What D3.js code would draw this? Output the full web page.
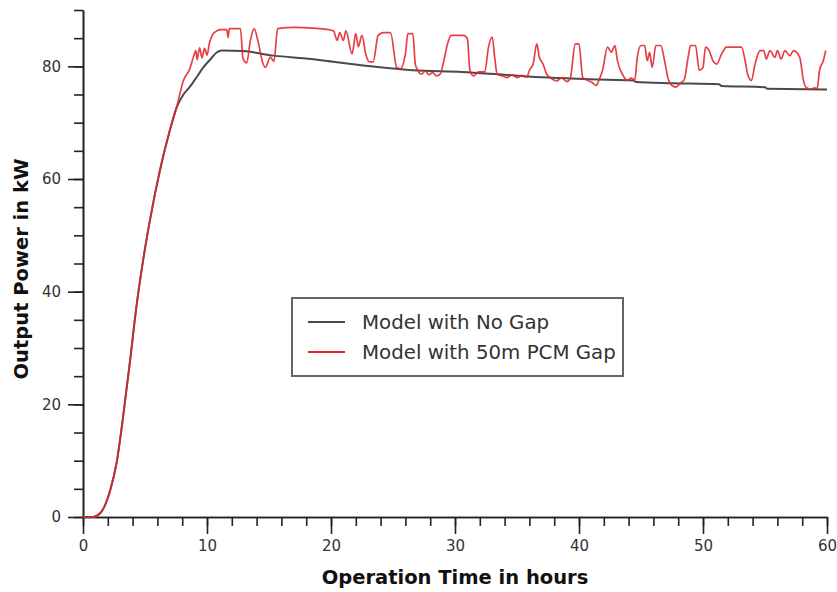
<!DOCTYPE html>
<html>
<head>
<meta charset="utf-8">
<script src="https://cdn.jsdelivr.net/npm/d3@7"></script>
<style>
  body { margin: 0; background: #fff; }
  .axis text { font-family: "DejaVu Sans", sans-serif; font-size: 15px; fill: #333; }
  .axis path, .axis line { stroke: #222; stroke-width: 1.6; }
  .axis-title { font-family: "DejaVu Sans", sans-serif; font-weight: bold; font-size: 19.5px; fill: #111; }
  .legend text { font-family: "DejaVu Sans", sans-serif; font-size: 19.8px; fill: #333; }
</style>
</head>
<body>
<div id="chart"></div>
<script>
// Model with No Gap
const noGapTime = [0, 0.8, 1.4, 2.2, 2.7, 3.2, 3.8, 4.3, 4.85, 5.4, 6.2, 7.0, 7.55, 8.1, 8.6, 9.2, 9.7, 10.3, 10.8, 11.2,
  12.9, 15.4, 18.4, 20.2, 22.8, 26.6, 30.6, 34, 37.5, 40.9, 44.4, 44.6, 47.6, 51.3, 51.5, 55.0, 55.2, 60];
const noGapPower = [0, 0, 0.7, 4.8, 9.5, 17.2, 27.8, 37.2, 45.6, 52.7, 61.5, 68.6, 72.7, 75.0, 76.3, 78.2, 79.8, 81.3, 82.5, 82.8,
  82.7, 81.9, 81.3, 80.8, 80.1, 79.3, 79.0, 78.5, 78.0, 77.7, 77.5, 77.2, 77.0, 76.8, 76.5, 76.3, 76.0, 75.9];

// Model with 50m PCM Gap
const gapTime = [0, 0.8, 1.4, 2.2, 2.7, 3.2, 3.8, 4.3, 4.85, 5.4, 6.2, 7.0, 7.55, 8.1, 8.6, 8.9, 9.1, 9.2, 9.4, 9.6, 9.8, 10.0,
  10.2, 10.5, 10.8, 11.1, 11.6, 11.7, 11.8, 12.7, 12.9, 13.2, 13.5, 13.8, 14.1, 14.5, 14.7, 15.1, 15.4, 15.7, 17, 18.5, 19.5,
  20.2, 20.5, 20.7, 21.0, 21.2, 21.7, 22.0, 22.2, 22.5, 22.8, 23.1, 23.4, 23.8, 24.2, 24.8, 25.3, 25.6, 26.0, 26.2, 26.6, 26.8,
  27.0, 27.3, 27.6, 27.9, 28.2, 28.5, 28.8, 29.1, 29.4, 29.7, 30.7, 31.0, 31.2, 31.5, 31.9, 32.4, 32.7, 33.0, 33.2, 33.4, 33.8,
  34.2, 34.6, 35.0, 35.4, 35.8, 36.0, 36.3, 36.6, 36.8, 37.1, 37.4, 37.8, 38.2, 38.6, 39.0, 39.3, 39.4, 39.7, 40.0, 40.3, 40.6,
  41.0, 41.4, 41.6, 41.9, 42.3, 42.6, 42.9, 43.1, 43.5, 43.9, 44.2, 44.5, 44.7, 45.0, 45.3, 45.5, 45.7, 45.9, 46.2, 46.6, 46.9,
  47.2, 47.5, 47.8, 48.1, 48.5, 48.8, 49.0, 49.4, 49.7, 50.0, 50.2, 50.5, 50.8, 51.1, 51.5, 51.9, 53.1, 53.4, 53.6, 53.9, 54.2,
  54.6, 54.9, 55.1, 55.4, 55.8, 56.0, 56.3, 56.6, 57.0, 57.3, 57.8, 58.1, 58.3, 58.7, 59.0, 59.2, 59.4, 59.7, 59.9];
const gapPower = [0, 0, 0.7, 4.8, 9.5, 17.2, 27.8, 37.2, 45.6, 52.7, 61.5, 68.6, 72.7, 77.5, 79.5, 81.6, 82.8, 81.2, 83.3, 81.5, 83.2, 82.0,
  84.2, 85.8, 86.3, 86.5, 86.5, 85.1, 86.7, 86.7, 81.4, 80.6, 84.6, 86.7, 84.6, 80.6, 79.8, 81.6, 80.9, 86.7, 86.9, 86.8, 86.6,
  86.3, 84.6, 86.0, 84.6, 86.3, 82.2, 85.8, 83.5, 85.5, 82.2, 80.8, 80.8, 85.5, 86.0, 86.0, 79.8, 79.6, 82.2, 85.8, 85.8, 80.4,
  79.3, 78.6, 79.2, 78.5, 78.9, 78.3, 78.6, 81.0, 84.0, 85.5, 85.5, 84.9, 79.3, 78.3, 79.0, 79.0, 83.4, 85.2, 81.6, 78.6, 78.3,
  78.0, 78.5, 78.0, 78.4, 78.1, 79.3, 80.4, 84.0, 81.6, 80.4, 78.6, 77.8, 77.4, 78.0, 77.3, 77.8, 79.3, 84.0, 84.0, 78.0, 77.6,
  77.2, 76.6, 77.5, 79.3, 83.4, 82.5, 83.7, 81.0, 78.6, 77.5, 77.9, 77.6, 81.6, 83.7, 83.7, 81.0, 82.5, 79.8, 83.7, 83.7, 81.0,
  77.7, 76.6, 76.3, 76.9, 77.7, 81.6, 83.7, 83.7, 79.3, 79.8, 83.4, 82.8, 81.0, 80.4, 82.2, 83.4, 83.4, 81.0, 78.6, 77.5, 80.4,
  82.8, 82.8, 81.3, 82.8, 81.6, 82.8, 81.3, 82.8, 81.9, 82.8, 81.6, 77.5, 76.3, 75.9, 76.2, 76.0, 79.3, 81.0, 82.8];

const seriesNames = ["Model with No Gap", "Model with 50m PCM Gap"];
const seriesColors = ["#4a4a4a", "#e3262b"];
const xTickValues = [0, 10, 20, 30, 40, 50, 60];
const yTickValues = [0, 20, 40, 60, 80];
const xTitle = "Operation Time in hours";
const yTitle = "Output Power in kW";

class LineChart {
  constructor(_config, _series) {
    this.config = {
      parentElement: _config.parentElement,
      containerWidth: 837,
      containerHeight: 592,
      margin: { top: 10, right: 10, bottom: 75, left: 83 },
    };
    this.series = _series;
    this.initVis();
  }

  initVis() {
    let vis = this;
    vis.width = vis.config.containerWidth - vis.config.margin.left - vis.config.margin.right;
    vis.height = vis.config.containerHeight - vis.config.margin.top - vis.config.margin.bottom;

    vis.xScale = d3.scaleLinear().domain([0, 60]).range([0, vis.width]);
    vis.yScale = d3.scaleLinear().domain([0, 90]).range([vis.height, 0]);

    vis.svg = d3
      .select(vis.config.parentElement)
      .append("svg")
      .attr("width", vis.config.containerWidth)
      .attr("height", vis.config.containerHeight);

    vis.chart = vis.svg
      .append("g")
      .attr("transform", `translate(${vis.config.margin.left},${vis.config.margin.top})`);

    // minor ticks first, major axes on top
    vis.chart
      .append("g")
      .attr("class", "axis")
      .attr("transform", `translate(0,${vis.height})`)
      .call(d3.axisBottom(vis.xScale).tickValues(d3.range(0, 61, 2)).tickSize(9).tickSizeOuter(0).tickFormat(""));
    vis.chart
      .append("g")
      .attr("class", "axis")
      .call(d3.axisLeft(vis.yScale).tickValues(d3.range(0, 91, 5)).tickSize(9).tickSizeOuter(0).tickFormat(""));

    vis.chart
      .append("g")
      .attr("class", "axis")
      .attr("transform", `translate(0,${vis.height})`)
      .call(d3.axisBottom(vis.xScale).tickValues(xTickValues).tickSize(17).tickSizeOuter(0).tickPadding(6));
    vis.chart
      .append("g")
      .attr("class", "axis")
      .call(d3.axisLeft(vis.yScale).tickValues(yTickValues).tickSize(15).tickSizeOuter(0).tickPadding(7));

    vis.svg
      .append("text")
      .attr("class", "axis-title")
      .attr("x", 455)
      .attr("y", 584)
      .attr("text-anchor", "middle")
      .text(xTitle);

    vis.svg
      .append("text")
      .attr("class", "axis-title")
      .attr("transform", `translate(28,269) rotate(-90)`)
      .attr("text-anchor", "middle")
      .text(yTitle);

    vis.renderVis();
  }

  renderVis() {
    let vis = this;
    const line = d3
      .line()
      .curve(d3.curveMonotoneX)
      .x((d) => vis.xScale(d[0]))
      .y((d) => vis.yScale(d[1]));

    vis.chart
      .selectAll(".series")
      .data(vis.series)
      .join("path")
      .attr("class", "series")
      .attr("fill", "none")
      .attr("stroke", (d) => d.color)
      .attr("stroke-width", (d, i) => (i === 0 ? 2 : 1.7))
      .attr("stroke-opacity", (d, i) => (i === 0 ? 1 : 0.88))
      .attr("stroke-linejoin", "round")
      .attr("d", (d) => line(d.values));

    // legend
    const legend = vis.svg.append("g").attr("class", "legend");
    legend
      .append("rect")
      .attr("x", 292)
      .attr("y", 298)
      .attr("width", 331)
      .attr("height", 78)
      .attr("fill", "#fff")
      .attr("stroke", "#666")
      .attr("stroke-width", 2);

    const item = legend
      .selectAll(".item")
      .data(vis.series)
      .join("g")
      .attr("class", "item")
      .attr("transform", (d, i) => `translate(308,${322 + i * 30})`);
    item
      .append("line")
      .attr("x1", 0)
      .attr("x2", 37)
      .attr("stroke", (d) => d.color)
      .attr("stroke-width", 2);
    item
      .append("text")
      .attr("x", 54)
      .attr("dy", "0.35em")
      .text((d) => d.name);
  }
}

const series = [
  { name: seriesNames[0], color: seriesColors[0], values: noGapTime.map((t, i) => [t, noGapPower[i]]) },
  { name: seriesNames[1], color: seriesColors[1], values: gapTime.map((t, i) => [t, gapPower[i]]) },
];

new LineChart({ parentElement: "#chart" }, series);
</script>
</body>
</html>
